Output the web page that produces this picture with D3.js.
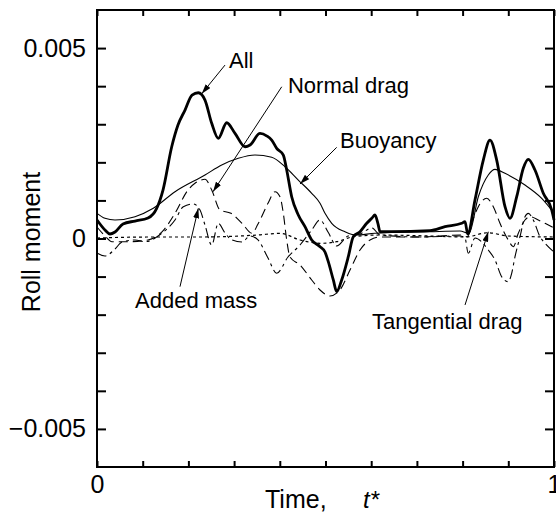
<!doctype html>
<html>
<head>
<meta charset="utf-8">
<title>Roll moment</title>
<script src="https://cdn.jsdelivr.net/npm/d3@7"></script>
<style>
  body { margin: 0; background: #fff; }
  text { font-family: "Liberation Sans", Arial, sans-serif; fill: #000; }
</style>
</head>
<body>
<div id="chart-area"></div>
<script>
  // time t* and roll moment
  var allMoment = [
    [0, 0.000486], [0.0175, 0.000223], [0.0284, 0.000118], [0.0394, 0.000171], [0.0569, 0.000381],
    [0.0832, 0.000459], [0.1116, 0.000538], [0.1306, 0.000793], [0.1444, 0.001273], [0.1635, 0.002409],
    [0.1772, 0.002979], [0.1926, 0.003372], [0.2079, 0.003766], [0.2217, 0.003827], [0.2363, 0.003635],
    [0.2510, 0.003024], [0.2654, 0.002630], [0.2838, 0.003039], [0.3020, 0.002761], [0.3239, 0.002409],
    [0.3348, 0.002454], [0.3567, 0.002761], [0.3720, 0.002690], [0.3823, 0.002585], [0.3932, 0.002367],
    [0.4077, 0.002192], [0.4151, 0.001798], [0.4260, 0.001097], [0.4405, 0.000617], [0.4551, 0.000310],
    [0.4698, -0.000039], [0.4880, -0.000215], [0.4989, -0.000354], [0.5061, -0.000609], [0.5171, -0.001089],
    [0.5245, -0.001396], [0.5354, -0.001089], [0.5499, -0.000478], [0.5608, 0.000047], [0.5755, 0.000178],
    [0.5902, 0.000399], [0.6018, 0.000538], [0.6083, 0.000617], [0.6149, 0.000381], [0.6193, 0.000178],
    [0.6444, 0.000178], [0.7287, 0.000205], [0.7615, 0.000310], [0.7980, 0.000399], [0.8053, 0.000441],
    [0.8112, 0.000118], [0.8271, 0.001010], [0.8453, 0.002060], [0.8600, 0.002585], [0.8746, 0.002060],
    [0.8928, 0.000835], [0.9037, 0.000530], [0.9184, 0.001097], [0.9328, 0.001843], [0.9438, 0.002079],
    [0.9584, 0.001798], [0.9766, 0.001186], [0.9950, 0.000748], [1, 0.000486]
  ];
  var buoyancy = [
    [0, 0.000661], [0.0175, 0.000530], [0.0394, 0.000486], [0.0832, 0.000572], [0.1232, 0.000793],
    [0.1707, 0.001228], [0.2363, 0.001667], [0.2729, 0.001929], [0.3092, 0.002105], [0.3457, 0.002192],
    [0.3823, 0.002131], [0.4114, 0.001885], [0.4405, 0.001535], [0.4698, 0.001186], [0.4880, 0.000924],
    [0.4989, 0.000661], [0.5136, 0.000399], [0.5427, 0.000178], [0.5646, 0.000092], [0.6083, 0.000136],
    [0.7287, 0.000178], [0.7943, 0.000197], [0.8140, 0.000136], [0.8344, 0.001097], [0.8562, 0.001667],
    [0.8709, 0.001816], [0.8928, 0.001711], [0.9365, 0.001404], [0.9731, 0.001055], [1, 0.000669]
  ];
  var normalDrag = [
    [0, 0.000302], [0.0175, 0.000066], [0.0328, -0.000084], [0.0678, -0.000084], [0.1116, -0.000039],
    [0.1422, 0.000171], [0.1707, 0.000661], [0.1991, 0.001273], [0.2144, 0.001449], [0.2363, 0.001554],
    [0.2510, 0.001273], [0.2691, 0.000748], [0.2932, 0.000661], [0.3173, 0.000399], [0.3392, 0.000136],
    [0.3523, 0.000381], [0.3742, 0.000924], [0.3895, 0.001228], [0.4004, 0.001097], [0.4077, 0.000661],
    [0.4151, -0.000039], [0.4223, -0.000486], [0.4442, -0.000695], [0.4698, -0.001089], [0.4880, -0.001352],
    [0.5098, -0.001509], [0.5317, -0.001352], [0.5536, -0.000827], [0.5755, -0.000302], [0.5974, -0.000039],
    [0.6193, 0.000039], [0.7068, 0.000039], [0.7943, 0.000092], [0.8112, 0.000047], [0.8200, 0.000399],
    [0.8344, 0.000835], [0.8527, 0.001055], [0.8672, 0.000835], [0.8818, 0.000399], [0.9000, -0.000039],
    [0.9109, -0.000215], [0.9219, 0.000136], [0.9365, 0.000486], [0.9475, 0.000572], [0.9656, 0.000486],
    [0.9803, 0.000399], [1, 0.000276]
  ];
  var addedMass = [
    [0, -0.000381], [0.0175, -0.000459], [0.0394, -0.000276], [0.0547, -0.000092], [0.0832, -0.000039],
    [0.1050, -0.000084], [0.1416, 0.000136], [0.1707, 0.000486], [0.1889, 0.000835], [0.2107, 0.000906],
    [0.2254, 0.000748], [0.2363, 0.000354], [0.2510, -0.000171], [0.2654, 0.000399], [0.2801, 0.000144],
    [0.2954, -0.000039], [0.3173, -0.000092], [0.3348, 0.000066], [0.3523, -0.000039], [0.3742, -0.000512],
    [0.3932, -0.000913], [0.4179, -0.000486], [0.4442, -0.000171], [0.4698, 0.000223], [0.4880, 0.000486],
    [0.5055, 0.000171], [0.5245, -0.000197], [0.5492, 0.000066], [0.5755, 0.000118], [0.6018, 0.000276],
    [0.6193, 0.000092], [0.7068, 0.000039], [0.7943, 0.000066], [0.8053, 0.000013], [0.8123, -0.000388],
    [0.8271, 0.000013], [0.8562, -0.000302], [0.8709, -0.000564], [0.8855, -0.001003], [0.9000, -0.001134],
    [0.9074, -0.000913], [0.9147, -0.000478], [0.9256, 0.000047], [0.9365, 0.000572], [0.9438, 0.000661],
    [0.9547, 0.000486], [0.9694, 0.000047], [0.9803, -0.000126], [1, -0.000354]
  ];
  var tangentialDrag = [
    [0, 0.000013], [0.1160, 0.000039], [0.2254, 0.000039], [0.3517, 0.000092], [0.4004, 0.000136],
    [0.4442, -0.000039], [0.4880, -0.000126], [0.5245, -0.000084], [0.5608, 0.000047], [0.6193, 0.000092],
    [0.7287, 0.000066], [0.8053, 0.000039], [0.8556, 0.000152], [0.8993, 0.000066], [1, 0.000039]
  ];

  var yTickValues = [-0.005, -0.004, -0.003, -0.002, -0.001, 0, 0.001, 0.002, 0.003, 0.004, 0.005];
  var yTickLabels = {'-0.005': '\u22120.005', '0': '0', '0.005': '0.005'};
  var xTickValues = [0, 0.1, 0.2, 0.3, 0.4, 0.5, 0.6, 0.7, 0.8, 0.9, 1];
  var xTickLabels = {'0': '0', '1': '1'};

  // label text, label position [t, v], arrow start [t, v], arrow tip [t, v]
  var notes = [
    ['All', [0.2888, 0.004475], [0.2801, 0.004554], [0.2291, 0.00380]],
    ['Normal drag', [0.4179, 0.003819], [0.4042, 0.003984], [0.2538, 0.001228]],
    ['Buoyancy', [0.5317, 0.002375], [0.5245, 0.002394], [0.4442, 0.001430]],
    ['Added mass', [0.0832, -0.001824], [0.1816, -0.001265], [0.2217, 0.000793]],
    ['Tangential drag', [0.6018, -0.002375], [0.8053, -0.001745], [0.8562, 0.000178]]
  ];

  var margin = {left: 97, right: 2, top: 10, bottom: 48};
  var width = 556 - margin.left - margin.right;
  var height = 515 - margin.top - margin.bottom;

  var svg = d3.select('#chart-area')
      .append('svg')
      .attr('width', 556)
      .attr('height', 515);

  svg.append('defs').append('marker')
      .attr('id', 'arrow')
      .attr('viewBox', '0 0 10 6')
      .attr('refX', 10)
      .attr('refY', 3)
      .attr('markerWidth', 10)
      .attr('markerHeight', 6)
      .attr('markerUnits', 'userSpaceOnUse')
      .attr('orient', 'auto')
      .append('path')
      .attr('d', 'M0,0 L10,3 L0,6 Z')
      .attr('fill', '#000');

  var g = svg.append('g')
      .attr('transform', 'translate(' + margin.left + ',' + margin.top + ')');

  var x = d3.scaleLinear().domain([0, 1]).range([0, width]);
  var y = d3.scaleLinear().domain([-0.006, 0.006]).range([height, 0]);

  // Axes (ticks inward on all four sides)
  var leftAxis = g.append('g')
      .call(d3.axisLeft(y).tickValues(yTickValues).tickSizeInner(-9).tickSizeOuter(0).tickPadding(11)
          .tickFormat(function(d) { return yTickLabels[String(+d.toFixed(3))] || ''; }));
  var rightAxis = g.append('g')
      .attr('transform', 'translate(' + width + ',0)')
      .call(d3.axisRight(y).tickValues(yTickValues).tickSizeInner(-9).tickSizeOuter(0).tickFormat(''));
  var bottomAxis = g.append('g')
      .attr('transform', 'translate(0,' + height + ')')
      .call(d3.axisBottom(x).tickValues(xTickValues).tickSizeInner(-6).tickSizeOuter(0).tickPadding(8)
          .tickFormat(function(d) { return xTickLabels[String(+d.toFixed(1))] || ''; }));
  var topAxis = g.append('g')
      .call(d3.axisTop(x).tickValues(xTickValues).tickSizeInner(-6).tickSizeOuter(0).tickFormat(''));

  [leftAxis, rightAxis, bottomAxis, topAxis].forEach(function(a) {
    a.select('.domain').remove();
    a.selectAll('line').attr('stroke', '#000').attr('stroke-width', 2);
    a.selectAll('text').attr('font-size', '25px').attr('fill', '#000')
        .attr('font-family', '"Liberation Sans", Arial, sans-serif');
  });

  g.append('rect')
      .attr('width', width)
      .attr('height', height)
      .attr('fill', 'none')
      .attr('stroke', '#000')
      .attr('stroke-width', 2);

  // Curves
  var line = d3.line()
      .x(function(d) { return x(d[0]); })
      .y(function(d) { return y(d[1]); })
      .curve(d3.curveMonotoneX);

  var series = [
    {data: tangentialDrag, width: 1.2, dash: '3,3'},
    {data: addedMass, width: 1.1, dash: '10,4,3,4'},
    {data: normalDrag, width: 1.1, dash: '9,5'},
    {data: buoyancy, width: 1.1, dash: null},
    {data: allMoment, width: 2.8, dash: null}
  ];

  series.forEach(function(s) {
    g.append('path')
        .datum(s.data)
        .attr('d', line)
        .attr('fill', 'none')
        .attr('stroke', '#000')
        .attr('stroke-width', s.width)
        .attr('stroke-linejoin', 'round')
        .attr('stroke-dasharray', s.dash);
  });

  // Annotations
  notes.forEach(function(n) {
    g.append('text')
        .attr('x', x(n[1][0]))
        .attr('y', y(n[1][1]))
        .attr('font-size', '22px')
        .text(n[0]);
    g.append('line')
        .attr('x1', x(n[2][0]))
        .attr('y1', y(n[2][1]))
        .attr('x2', x(n[3][0]))
        .attr('y2', y(n[3][1]))
        .attr('stroke', '#000')
        .attr('stroke-width', 1)
        .attr('marker-end', 'url(#arrow)');
  });

  // Axis titles
  g.append('text')
      .attr('transform', 'rotate(-90)')
      .attr('x', -(242 - margin.top))
      .attr('y', 40 - margin.left)
      .attr('text-anchor', 'middle')
      .attr('font-size', '25px')
      .text('Roll moment');

  g.append('text')
      .attr('x', 265 - margin.left)
      .attr('y', 508 - margin.top)
      .attr('font-size', '25px')
      .text('Time,');
  g.append('text')
      .attr('x', 363 - margin.left)
      .attr('y', 508 - margin.top)
      .attr('font-size', '24px')
      .attr('font-family', '"Liberation Serif", "Times New Roman", serif')
      .attr('font-style', 'italic')
      .text('t*');
</script>
</body>
</html>
